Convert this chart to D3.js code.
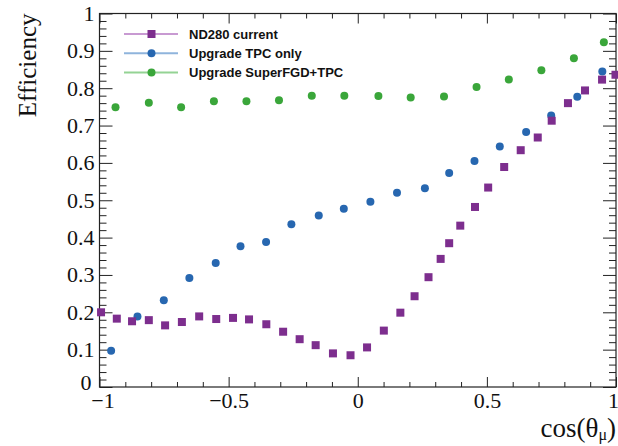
<!DOCTYPE html>
<html>
<head>
<meta charset="utf-8">
<script src="https://cdn.jsdelivr.net/npm/d3@7"></script>
<style>
  html, body { margin: 0; padding: 0; background: #fff; }
  svg { display: block; }
</style>
</head>
<body>
<svg id="chart" width="618" height="446"></svg>
<script>
// ---------- data ----------
const seriesNames = ["ND280 current", "Upgrade TPC only", "Upgrade SuperFGD+TPC"];

const nd280X = [-0.994,-0.933,-0.874,-0.809,-0.746,-0.681,-0.614,-0.548,-0.483,-0.421,-0.354,-0.289,-0.225,-0.163,-0.096,-0.028,0.036,0.101,0.165,0.220,0.274,0.321,0.354,0.397,0.454,0.505,0.567,0.631,0.697,0.751,0.814,0.880,0.946,0.998];
const nd280Y = [0.200,0.183,0.176,0.179,0.165,0.174,0.189,0.182,0.185,0.181,0.168,0.148,0.128,0.112,0.090,0.085,0.106,0.151,0.199,0.243,0.294,0.343,0.385,0.432,0.482,0.534,0.589,0.634,0.668,0.713,0.760,0.794,0.823,0.836];

const tpcX = [-0.955,-0.853,-0.751,-0.652,-0.550,-0.454,-0.355,-0.257,-0.151,-0.054,0.049,0.152,0.260,0.354,0.452,0.550,0.652,0.749,0.850,0.947];
const tpcY = [0.097,0.189,0.232,0.292,0.332,0.377,0.388,0.436,0.459,0.477,0.496,0.520,0.532,0.573,0.605,0.644,0.683,0.727,0.777,0.845];

const sfgdX = [-0.938,-0.809,-0.684,-0.557,-0.431,-0.305,-0.178,-0.052,0.080,0.205,0.334,0.460,0.585,0.711,0.837,0.953];
const sfgdY = [0.749,0.761,0.749,0.765,0.765,0.768,0.780,0.780,0.779,0.775,0.778,0.803,0.823,0.848,0.880,0.923];

const xTickLabels = [-1, -0.5, 0, 0.5, 1];
const xMinorTicks = [-0.9,-0.8,-0.7,-0.6,-0.4,-0.3,-0.2,-0.1,0.1,0.2,0.3,0.4,0.6,0.7,0.8,0.9];
const yTickLabels = [0, 0.1, 0.2, 0.3, 0.4, 0.5, 0.6, 0.7, 0.8, 0.9, 1];
const yMinorTicks = d3.range(0, 51).map(i => i / 50).filter(v => Math.abs(v * 10 - Math.round(v * 10)) > 1e-6);

// ---------- layout ----------
const plotL = 99.5, plotR = 616, plotT = 13.5, plotB = 387;
const svg = d3.select("#chart");

const x = d3.scaleLinear().domain([-1, 1]).range([plotL, plotR]);
const y = d3.scaleLinear().domain([0, 1]).range([plotB, plotT]);

const serif = "'Liberation Serif', 'Times New Roman', serif";
const sans = "'Liberation Sans', Arial, Helvetica, sans-serif";
const axisColor = "#222";

function styleAxis(g) {
  g.select(".domain").remove();
  g.selectAll(".tick line").attr("stroke", axisColor).attr("stroke-width", 1);
  g.selectAll(".tick text").attr("fill", "#111").attr("font-family", serif).attr("font-size", 22);
}

const fmt = d => (d < 0 ? "\u2212" : "") + d3.format("~g")(Math.abs(d));

// bottom axis
const xAxisG = svg.append("g").attr("transform", `translate(0,${plotB})`)
  .call(d3.axisBottom(x).tickValues(xTickLabels).tickSize(-10).tickPadding(5).tickFormat(fmt))
  .call(styleAxis);
xAxisG.selectAll(".tick text").filter(d => d === 1).attr("dx", -3);
xAxisG.selectAll(".tick text").filter(d => d === -1).attr("dx", 3);
svg.append("g").attr("transform", `translate(0,${plotB})`)
  .call(d3.axisBottom(x).tickValues(xMinorTicks).tickSize(-5).tickFormat(""))
  .call(styleAxis);
// top axis
svg.append("g").attr("transform", `translate(0,${plotT})`)
  .call(d3.axisTop(x).tickValues(xTickLabels).tickSize(-10).tickFormat(""))
  .call(styleAxis);
svg.append("g").attr("transform", `translate(0,${plotT})`)
  .call(d3.axisTop(x).tickValues(xMinorTicks).tickSize(-5).tickFormat(""))
  .call(styleAxis);
// left axis
const yAxisG = svg.append("g").attr("transform", `translate(${plotL},0)`)
  .call(d3.axisLeft(y).tickValues(yTickLabels).tickSize(-13).tickPadding(5).tickFormat(fmt))
  .call(styleAxis);
yAxisG.selectAll(".tick text").filter(d => d === 0).attr("dx", -3).attr("dy", "0.12em");
svg.append("g").attr("transform", `translate(${plotL},0)`)
  .call(d3.axisLeft(y).tickValues(yMinorTicks).tickSize(-7).tickFormat(""))
  .call(styleAxis);
// right axis
svg.append("g").attr("transform", `translate(${plotR},0)`)
  .call(d3.axisRight(y).tickValues(yTickLabels).tickSize(-13).tickFormat(""))
  .call(styleAxis);
svg.append("g").attr("transform", `translate(${plotR},0)`)
  .call(d3.axisRight(y).tickValues(yMinorTicks).tickSize(-7).tickFormat(""))
  .call(styleAxis);

// frame
svg.append("rect")
  .attr("x", plotL).attr("y", plotT)
  .attr("width", plotR - plotL).attr("height", plotB - plotT)
  .attr("fill", "none").attr("stroke", axisColor).attr("stroke-width", 1.2);

// axis titles
svg.append("text")
  .attr("transform", `translate(36,${plotT}) rotate(-90)`)
  .attr("text-anchor", "end")
  .attr("font-family", serif).attr("font-size", 25).attr("fill", "#111")
  .text("Efficiency");

const xt = svg.append("text")
  .attr("x", 616).attr("y", 437)
  .attr("text-anchor", "end")
  .attr("font-family", serif).attr("font-size", 27).attr("fill", "#111");
xt.append("tspan").text("cos(\u03b8");
xt.append("tspan").attr("font-size", 16).attr("dy", 3).text("\u03bc");
xt.append("tspan").attr("dy", -3).text(")");

// ---------- series ----------
const colors = ["#7d2e8e", "#2767b0", "#3aa63a"];
const lightColors = ["#c89ad2", "#8fb4dc", "#94d394"];

const sq = 8, rad = 4;

// green
svg.append("g").selectAll("circle").data(d3.zip(sfgdX, sfgdY)).join("circle")
  .attr("cx", d => x(d[0])).attr("cy", d => y(d[1])).attr("r", rad)
  .attr("fill", colors[2]);
// blue
svg.append("g").selectAll("circle").data(d3.zip(tpcX, tpcY)).join("circle")
  .attr("cx", d => x(d[0])).attr("cy", d => y(d[1])).attr("r", rad)
  .attr("fill", colors[1]);
// purple
svg.append("g").selectAll("rect").data(d3.zip(nd280X, nd280Y)).join("rect")
  .attr("x", d => x(d[0]) - sq / 2).attr("y", d => y(d[1]) - sq / 2)
  .attr("width", sq).attr("height", sq)
  .attr("fill", colors[0]);

// ---------- legend ----------
const legendRowsY = [34, 53.3, 72.5];
const leg = svg.append("g");
seriesNames.forEach((name, i) => {
  const ly = legendRowsY[i];
  leg.append("line").attr("x1", 124).attr("x2", 178).attr("y1", ly).attr("y2", ly)
    .attr("stroke", lightColors[i]).attr("stroke-width", 2);
  if (i === 0) {
    leg.append("rect").attr("x", 151.5 - sq / 2).attr("y", ly - sq / 2)
      .attr("width", sq).attr("height", sq).attr("fill", colors[i]);
  } else {
    leg.append("circle").attr("cx", 151.5).attr("cy", ly).attr("r", rad).attr("fill", colors[i]);
  }
  leg.append("text").attr("x", 189).attr("y", ly).attr("dy", "0.35em")
    .attr("font-family", sans).attr("font-weight", "bold").attr("font-size", 13)
    .attr("fill", "#111").text(name);
});
</script>
</body>
</html>
